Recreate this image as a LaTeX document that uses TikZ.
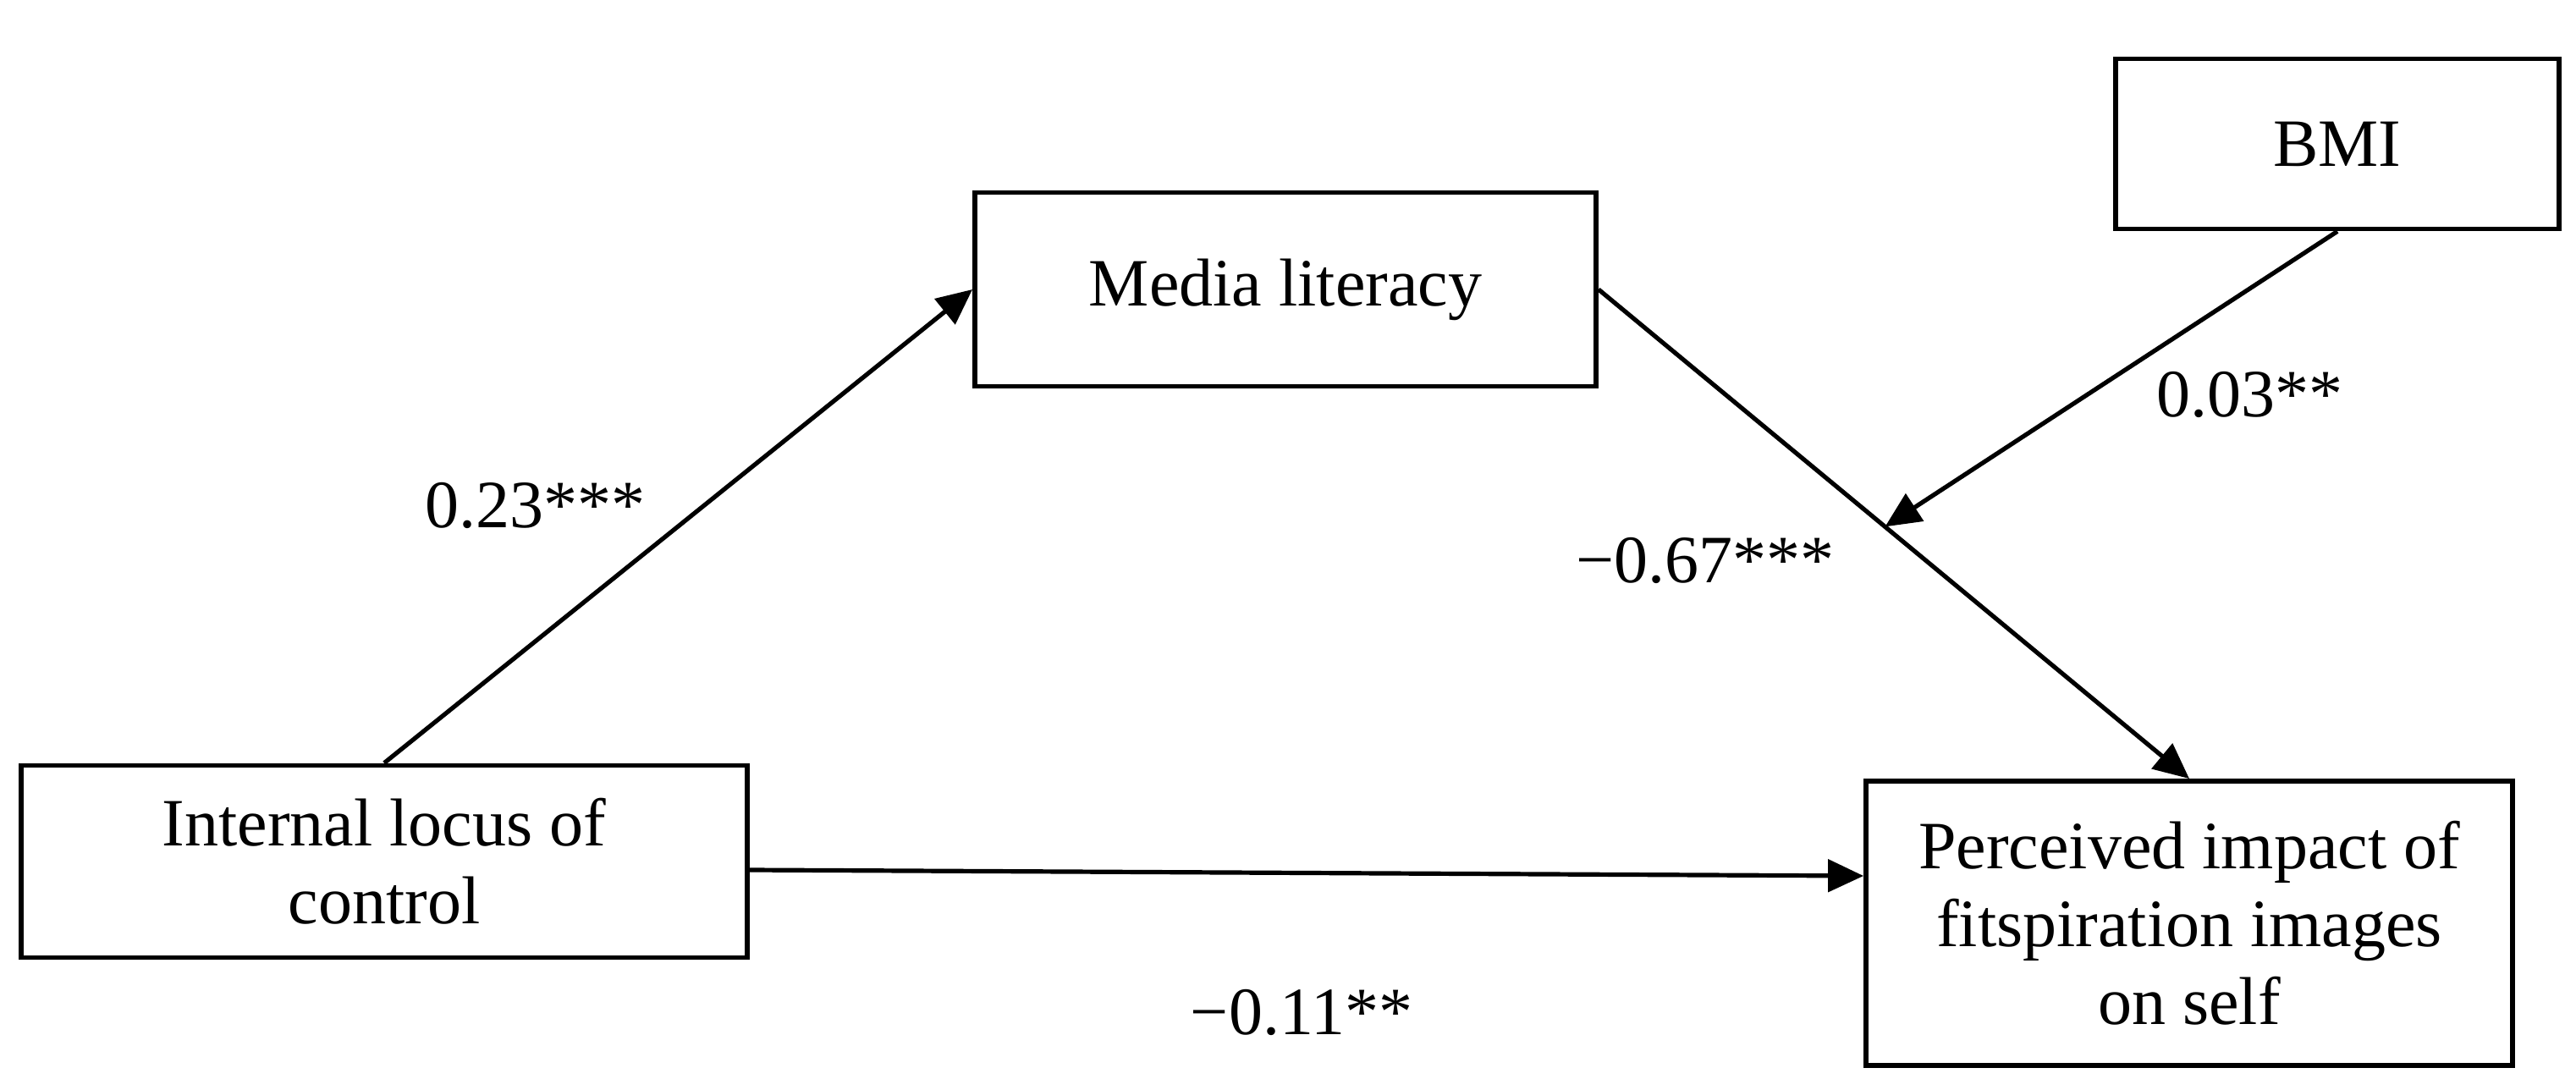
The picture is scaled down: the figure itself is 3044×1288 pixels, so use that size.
\documentclass[tikz,border=0pt]{standalone}
\usepackage{fontspec}
\setmainfont{Liberation Serif}
\usetikzlibrary{arrows.meta,calc}
\begin{document}
\begin{tikzpicture}[x=0.5pt,y=-0.5pt,
  varbox/.style={draw=black,line width=2.9pt,align=center,inner sep=0pt,
    font=\fontsize{40}{46}\selectfont},
  path/.style={line width=2.6pt,-{Triangle[length=21pt,width=19pt]}},
  coef/.style={anchor=base,inner sep=0pt,font=\fontsize{40}{46}\selectfont}]
\useasboundingbox[fill=white] (0,0) rectangle (3044,1288);
\node[varbox,minimum width=858*0.5pt,minimum height=227*0.5pt] (I) at (454,1018)
  {Internal locus of\\control};
\node[varbox,minimum width=734*0.5pt,minimum height=229*0.5pt] (M) at (1519,342)
  {Media literacy};
\node[varbox,minimum width=524*0.5pt,minimum height=201*0.5pt] (B) at (2762,170)
  {BMI};
\node[varbox,minimum width=764*0.5pt,minimum height=336*0.5pt] (P) at (2587,1091)
  {Perceived impact of\\fitspiration images\\on self};
\draw[path] (I.north) -- (M.west);
\draw[path] (M.east) -- coordinate[pos=0.485] (m) (P.north);
\draw[path] ($(I.east)+(0,10)$) -- ($(P.west)+(0,-56)$);
\draw[path] (B.south) -- (m);
\node[coef] (c1) at (632,623) {0.23***};
\node[coef] (c2) at (2015,688) {−0.67***};
\node[coef] (c3) at (1538,1222) {−0.11**};
\node[coef] (c4) at (2658,493) {0.03**};
\end{tikzpicture}
\end{document}
